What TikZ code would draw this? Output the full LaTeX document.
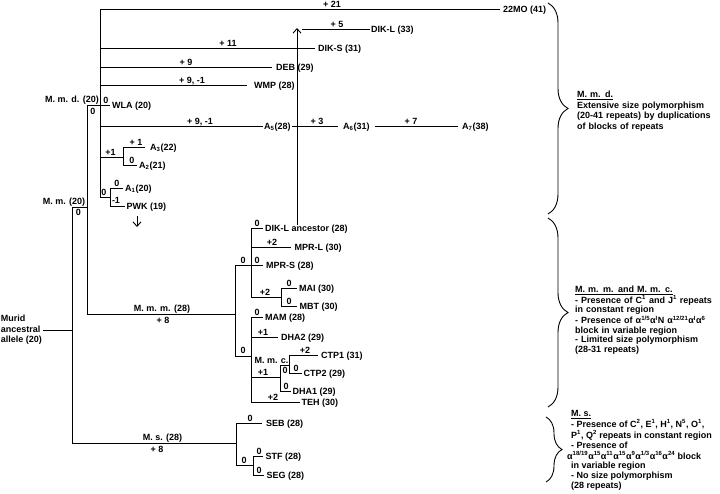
\documentclass[tikz,border=0pt]{standalone}
\usepackage{fontspec}
\setmainfont{Liberation Sans}
\usetikzlibrary{arrows.meta,decorations.pathreplacing}
\newcommand{\fs}{\fontsize{9}{10.5}\selectfont\bfseries}
\newcommand{\al}[1]{α\textsuperscript{#1}}
\begin{document}
\begin{tikzpicture}[x=1pt,y=-1pt,
  br/.style={line width=0.9pt},
  lf/.style={font=\fs, inner ysep=0pt, inner xsep=#1, text height=6.4pt, text depth=0pt, anchor=west},
  lf/.default=2pt,
  bl/.style={font=\fs, inner sep=0pt, text height=6.4pt, text depth=0pt},
  note/.style={align=left, anchor=north west, inner sep=0pt, text width=150pt},
  brc/.style={decorate, decoration={brace, amplitude=#1}, line width=0.9pt},
  arr/.style={line width=0.9pt, -{Straight Barb[length=4.5pt,width=8pt]}}]
\useasboundingbox (0,0) rectangle (720,493);

% ---------- coordinates ----------
\coordinate (root) at (72,330);
\coordinate (rt) at (72,207);
\coordinate (rb) at (72,443);
\coordinate (mm) at (87,207);
\coordinate (mmt) at (87,105);
\coordinate (mmb) at (87,314);
\coordinate (mdt) at (100,9);
\coordinate (mdb) at (100,197);
\coordinate (dks) at (100,48);
\coordinate (ddeb) at (100,67);
\coordinate (dwmp) at (100,85);
\coordinate (da5) at (100,126);
\coordinate (da23) at (100,157);
\coordinate (a23) at (123,157);
\coordinate (a23t) at (123,147);
\coordinate (a23b) at (123,165);
\coordinate (a1p) at (110,197);
\coordinate (a1pt) at (110,188);
\coordinate (a1pb) at (110,206);
\coordinate (pwka) at (137,216);
\coordinate (pwkb) at (137,227);
\coordinate (arrt) at (297,28);
\coordinate (dklb) at (302,29);
\coordinate (mmm) at (235,314);
\coordinate (mmmt) at (235,265);
\coordinate (mmmb) at (235,356);
\coordinate (u) at (251,265);
\coordinate (ut) at (251,228);
\coordinate (ub) at (251,297);
\coordinate (mb) at (281,297);
\coordinate (mbt) at (281,288);
\coordinate (mbb) at (281,306);
\coordinate (l) at (251,356);
\coordinate (lt) at (251,317);
\coordinate (lb) at (251,402);
\coordinate (lc) at (251,377);
\coordinate (c) at (280,377);
\coordinate (ct) at (280,365);
\coordinate (cb) at (280,391);
\coordinate (cp) at (289,365);
\coordinate (cpt) at (289,355);
\coordinate (cpb) at (289,373);
\coordinate (ms) at (236,443);
\coordinate (mst) at (236,423);
\coordinate (msb) at (236,465);
\coordinate (sg) at (253,465);
\coordinate (sgt) at (253,456);
\coordinate (sgb) at (253,475);

% ---------- leaf labels ----------
\node[font=\fs, align=left, anchor=east, inner sep=1pt] (murid) at (43,330) {Murid\\ancestral\\allele (20)};
\node[lf=3pt] (mo22) at (500,9) {22MO (41)};
\node[lf=1.5pt] (dikl) at (369.5,29) {DIK-L (33)};
\node[lf=3pt] (diks) at (315,48) {DIK-S (31)};
\node[lf=4pt] (deb) at (272,67) {DEB (29)};
\node[lf=7pt] (wmp) at (247,85) {WMP (28)};
\node[lf=2pt] (wla) at (110,105) {WLA (20)};
\node[lf=1.5pt] (a5) at (262.5,126) {A\textsubscript{5}(28)};
\node[lf=5pt] (a6) at (338,126) {A\textsubscript{6}(31)};
\node[lf=4pt] (a7) at (458,126) {A\textsubscript{7}(38)};
\node[lf=5pt] (a3) at (145,147) {A\textsubscript{3}(22)};
\node[lf=2pt] (a2) at (137,165) {A\textsubscript{2}(21)};
\node[lf=2pt] (a1) at (123,188) {A\textsubscript{1}(20)};
\node[lf=1.5pt] (pwk) at (125,206) {PWK (19)};
\node[lf=2pt] (dikla) at (263,228) {DIK-L ancestor (28)};
\node[lf=3.5pt] (mprl) at (291,247) {MPR-L (30)};
\node[lf=3pt] (mprs) at (263,265) {MPR-S (28)};
\node[lf=2pt] (main) at (297,288) {MAI (30)};
\node[lf=2.5pt] (mbtn) at (297,306) {MBT (30)};
\node[lf=2pt] (mam) at (263,317) {MAM (28)};
\node[lf=3pt] (dha2) at (278,337) {DHA2 (29)};
\node[lf=3pt] (ctp1) at (318,355) {CTP1 (31)};
\node[lf=1.5pt] (ctp2) at (302,373) {CTP2 (29)};
\node[lf=1.5pt] (dha1) at (291,391) {DHA1 (29)};
\node[lf=1.5pt] (teh) at (300,402) {TEH (30)};
\node[lf=4pt] (seb) at (262,423) {SEB (28)};
\node[lf=2.5pt] (stf) at (263,456) {STF (28)};
\node[lf=2.5pt] (seg) at (264,475) {SEG (28)};

% ---------- branches ----------
\draw[br] (murid) -- (root);
\draw[br] (rt) -- (rb);
\draw[br] (rt) -- (mm);
\draw[br] (mmt) -- (mmb);
\draw[br] (mmt) -- (wla);
\draw[br] (mdt) -- (mdb);
\draw[br] (mdt) -- (mo22);
\draw[br] (dks) -- (diks);
\draw[br] (ddeb) -- (deb);
\draw[br] (dwmp) -- (wmp);
\draw[br] (da5) -- (a5);
\draw[br] (a5) -- (a6);
\draw[br] (a6) -- (a7);
\draw[br] (da23) -- (a23);
\draw[br] (a23t) -- (a23b);
\draw[br] (a23t) -- (a3);
\draw[br] (a23b) -- (a2);
\draw[br] (mdb) -- (a1p);
\draw[br] (a1pt) -- (a1pb);
\draw[br] (a1pt) -- (a1);
\draw[br] (a1pb) -- (pwk);
\draw[arr] (pwka) -- (pwkb);
\draw[arr] (dikla.north -| arrt) -- (arrt);
\draw[br] (dklb) -- (dikl);
% M. m. m.
\draw[br] (mmb) -- (mmm);
\draw[br] (mmmt) -- (mmmb);
\draw[br] (mmmt) -- (u);
\draw[br] (ut) -- (ub);
\draw[br] (ut) -- (dikla);
\draw[br] (ut |- mprl) -- (mprl);
\draw[br] (u) -- (mprs);
\draw[br] (ub) -- (mb);
\draw[br] (mbt) -- (mbb);
\draw[br] (mbt) -- (main);
\draw[br] (mbb) -- (mbtn);
\draw[br] (mmmb) -- (l);
\draw[br] (lt) -- (lb);
\draw[br] (lt) -- (mam);
\draw[br] (lt |- dha2) -- (dha2);
\draw[br] (lc) -- (c);
\draw[br] (ct) -- (cb);
\draw[br] (ct) -- (cp);
\draw[br] (cpt) -- (cpb);
\draw[br] (cpt) -- (ctp1);
\draw[br] (cpb) -- (ctp2);
\draw[br] (cb) -- (dha1);
\draw[br] (lb) -- (teh);
% M. s.
\draw[br] (rb) -- (ms);
\draw[br] (mst) -- (msb);
\draw[br] (mst) -- (seb);
\draw[br] (msb) -- (sg);
\draw[br] (sgt) -- (sgb);
\draw[br] (sgt) -- (stf);
\draw[br] (sgb) -- (seg);

% ---------- branch labels ----------
\node[bl] (b1) at (332,4.5) {+ 21};
\node[bl] (b2) at (337,24) {+ 5};
\node[bl] (b3) at (228,43) {+ 11};
\node[bl] (b4) at (186,62) {+ 9};
\node[bl] (b5) at (192,80) {+ 9, -1};
\node[bl] (b6) at (106,100) {0};
\node[bl] (b7) at (93,111) {0};
\node[bl] (mmdl) at (72,99) {M. m. d. (20)};
\node[bl] (b8) at (200,121) {+ 9, -1};
\node[bl] (b9) at (317,121) {+ 3};
\node[bl] (b10) at (411,121) {+ 7};
\node[bl] (b11) at (110.5,152) {+1};
\node[bl] (b12) at (136,142) {+ 1};
\node[bl] (b13) at (132,160) {0};
\node[bl] (b14) at (104,192) {0};
\node[bl] (b15) at (117,183) {0};
\node[bl] (b16) at (116,200.5) {-1};
\node[bl] (mml) at (64,201) {M. m. (20)};
\node[bl] (b17) at (78.5,212.5) {0};
\node[bl] (mmml) at (162,308) {M. m. m. (28)};
\node[bl] (b18) at (163,320) {+ 8};
\node[bl] (b19) at (243,260) {0};
\node[bl] (b20) at (257,223) {0};
\node[bl] (b21) at (272,242) {+2};
\node[bl] (b22) at (257,260.5) {0};
\node[bl] (b23) at (265,292) {+2};
\node[bl] (b24) at (289,283) {0};
\node[bl] (b25) at (289,301) {0};
\node[bl] (b26) at (243,350.5) {0};
\node[bl] (b27) at (257,312) {0};
\node[bl] (b28) at (263,332) {+1};
\node[bl] (mmcl) at (271.5,360) {M. m. c.};
\node[bl] (b29) at (263,372) {+1};
\node[bl] (b30) at (285,370.5) {0};
\node[bl] (b31) at (305,350) {+2};
\node[bl] (b32) at (296,368) {0};
\node[bl] (b33) at (286,386) {0};
\node[bl] (b34) at (273,397) {+2};
\node[bl] (msl) at (162.5,437) {M. s. (28)};
\node[bl] (b35) at (157,449) {+ 8};
\node[bl] (b36) at (250,418) {0};
\node[bl] (b37) at (244,460) {0};
\node[bl] (b38) at (259,451) {0};
\node[bl] (b39) at (259,470) {0};

% ---------- braces and notes ----------
\draw[brc=20] (548,3) -- (548,214);
\draw[brc=20] (548,218) -- (548,407);
\draw[brc=16] (546,417) -- (546,482);

\node[note, font=\fontsize{9}{10.7}\selectfont\bfseries] (n1) at (577,90.6)
  {\underline{M. m. d.}\\Extensive size polymorphism\\(20-41 repeats) by duplications\\of blocks of repeats};
\node[note, font=\fontsize{9}{9.5}\selectfont\bfseries] (n2) at (575,285.6)
  {\underline{M. m. m. and M. m. c.}\\- Presence of C\textsuperscript{1} and J\textsuperscript{1} repeats\\in constant region\\- Presence of \al{1/5}\al{I}N \al{12/21}\al{I}\al{6}\\block in variable region\\- Limited size polymorphism\\(28-31 repeats)};
\node[anchor=north west, inner sep=0pt, font=\fontsize{9}{9.6}\selectfont\bfseries] (n3) at (571,410)
  {\begin{tabular}{@{}l@{}}\underline{M. s.}\\- Presence of C\textsuperscript{2}, E\textsuperscript{1}, H\textsuperscript{1}, N\textsuperscript{5}, O\textsuperscript{1},\\P\textsuperscript{1}, Q\textsuperscript{2} repeats in constant region\\- Presence of\\\makebox[0pt][l]{\kern-4pt\al{18/19}\al{15}\al{11}\al{15}\al{9}\al{1/3}\al{16}\al{24} block}\\in variable region\\- No size polymorphism\\(28 repeats)\end{tabular}};
\end{tikzpicture}
\end{document}
